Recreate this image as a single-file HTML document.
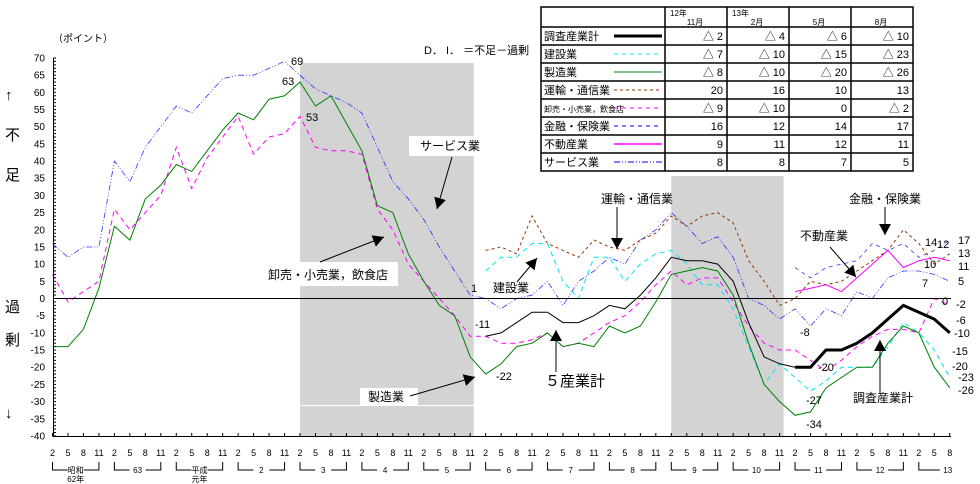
<!DOCTYPE html>
<html><head><meta charset="utf-8"><style>
body{margin:0;background:#fff;}
svg{display:block;font-family:"Liberation Sans","Noto Sans CJK JP",sans-serif;}
</style></head><body>
<svg id="chart" width="980" height="484" viewBox="0 0 980 484">
<g id="bg"></g><g id="grid"></g><g id="series"></g><g id="ann"></g><g id="axes"></g><g id="legend"></g>
</svg>
<script>
const tickLabels=["2","5","8","11"];
const yearLabels=["昭和","63","平成","2","3","4","5","6","7","8","9","10","11","12","13"];
const yTicks=[70,65,60,55,50,45,40,35,30,25,20,15,10,5,0,-5,-10,-15,-20,-25,-30,-35,-40];
const mfg=[-14,-14,-9,3,21,17,29,33,39,37,43,49,54,52,58,59,
63,56,59,51,43,27,25,13,5,-2,-5,-17,-22,
-19,-14,-13,-10,-14,-13,-14,-8,-10,-8,-1,7,
8,9,8,1,-13,-25,-30,-34,-33,
-26,-23,-20,-20,-13,-8,-10,-20,-26];
const wholesale=[7,-1,2,5,26,20,25,30,44,32,41,47,53,42,47,48,
53,44,43,43,42,26,20,10,5,0,-5,-11,-11,
-13,-13,-12,-10,-14,-13,-10,-7,-5,-1,4,8,
4,6,6,-1,-8,-13,-15,-15,-18,
-21,-18,-14,-11,-9,-9,-10,0,-2];
const service=[16,12,15,15,40,34,44,50,56,54,59,64,65,65,67,69,
65,61,59,57,54,44,34,29,23,15,8,1,0,
-3,0,1,5,-2,5,8,12,10,17,20,25,
21,16,18,12,0,-2,-6,-3,-8,
-3,-5,2,0,6,8,8,7,5];
const N=null;
const finance=[N,N,N,N,N,N,N,N,N,N,N,N,N,N,N,N,N,N,N,N,N,N,N,N,N,N,N,N,N,N,N,N,N,N,N,N,N,N,N,N,N,N,N,N,N,N,N,N,
9,6,9,10,11,16,14,16,12,14,17];
const transport=[N,N,N,N,N,N,N,N,N,N,N,N,N,N,N,N,N,N,N,N,N,N,N,N,N,N,N,N,
14,15,13,24,16,14,12,17,15,14,17,19,24,
21,24,25,22,11,5,-2,0,5,
4,5,8,11,14,20,16,10,13];
const construction=[N,N,N,N,N,N,N,N,N,N,N,N,N,N,N,N,N,N,N,N,N,N,N,N,N,N,N,N,
8,12,12,16,16,5,0,12,12,5,10,13,14,
10,4,4,-3,-14,-25,-19,-23,-27,
-24,-20,-20,-20,-14,-7,-10,-15,-23];
const five=[N,N,N,N,N,N,N,N,N,N,N,N,N,N,N,N,N,N,N,N,N,N,N,N,N,N,N,N,
-11,-10,-7,-4,-4,-7,-7,-5,-2,-3,1,6,12,
11,11,10,5,-7,-17,-19,-20,N,
N,N,N,N,N,N,N,N,N];
const total=[N,N,N,N,N,N,N,N,N,N,N,N,N,N,N,N,N,N,N,N,N,N,N,N,N,N,N,N,N,N,N,N,N,N,N,N,N,N,N,N,N,N,N,N,N,N,N,N,
-20,-20,-15,-15,-13,-10,-6,-2,-4,-6,-10];
const realestate=[N,N,N,N,N,N,N,N,N,N,N,N,N,N,N,N,N,N,N,N,N,N,N,N,N,N,N,N,N,N,N,N,N,N,N,N,N,N,N,N,N,N,N,N,N,N,N,N,
2,3,4,2,6,10,14,9,11,12,11];
const tableCols=["12年\n11月","13年\n2月","5月","8月"];
const tableRows=["調査産業計","建設業","製造業","運輸・通信業","卸売・小売業，飲食店","金融・保険業","不動産業","サービス業"];
const tableVals=[["△ 2","△ 4","△ 6","△ 10"],["△ 7","△ 10","△ 15","△ 23"],["△ 8","△ 10","△ 20","△ 26"],["20","16","10","13"],["△ 9","△ 10","0","△ 2"],["16","12","14","17"],["9","11","12","11"],["8","8","7","5"]];

const NS="http://www.w3.org/2000/svg";
const X0=52.5,DX=15.47,Y0=298.5,DY=3.436;
function xs(i){return X0+i*DX;}
function ys(v){return Y0-v*DY;}
function mk(tag,attrs,parent,text){const e=document.createElementNS(NS,tag);for(const k in attrs)e.setAttribute(k,attrs[k]);if(text!==undefined)e.textContent=text;parent.appendChild(e);return e;}
const bg=document.getElementById('bg'),axes=document.getElementById('axes'),ser=document.getElementById('series'),ann=document.getElementById('ann'),leg=document.getElementById('legend');

let r=mk('rect',{x:xs(16),y:63,width:xs(27)-xs(16)+3.5,height:436-63,fill:'#d3d3d3'},bg);

r=mk('rect',{x:xs(40),y:176,width:xs(47)-xs(40)+4,height:436-176,fill:'#d3d3d3'},bg);

mk('line',{x1:xs(16),x2:xs(27)+3.5,y1:405.5,y2:405.5,stroke:'#fff','stroke-width':1},bg);

let yl=mk('line',{x1:53.5,x2:53.5,y1:58,y2:436,stroke:'#000'},axes);

for(let v=-40;v<=70;v++){mk('line',{x1:53.5,x2:56,y1:ys(v),y2:ys(v),stroke:'#000'},axes);}
yTicks.forEach(v=>{const t=mk('text',{x:45,y:ys(v)+3.5,'text-anchor':'end','font-size':10},axes,String(v));
});
let xl=mk('line',{x1:53,x2:951,y1:436.5,y2:436.5,stroke:'#000'},axes);

let zl=mk('line',{x1:53,x2:951,y1:ys(0),y2:ys(0),stroke:'#000'},axes);

for(let i=0;i<59;i++){
 mk('line',{x1:xs(i),x2:xs(i),y1:433,y2:436.5,stroke:'#000'},axes);
 const t=mk('text',{x:xs(i),y:456,'text-anchor':'middle','font-size':9},axes,tickLabels[i%4]);
 
}
yearLabels.forEach((lab,k)=>{
 const a=xs(4*k),b=(k<14)?xs(4*k+3):xs(58)+2,m=(k<14)?(a+b)/2:b-4;
 mk('path',{d:`M${a} 462V470H${m-8}`,stroke:'#000',fill:'none'},axes);
 if(k<14)mk('path',{d:`M${m+8} 470H${b}V462`,stroke:'#000',fill:'none'},axes);
 const t=mk('text',{x:m,y:473,'text-anchor':'middle','font-size':8},axes,lab);
 
});
mk('text',{x:xs(1.5),y:482,'text-anchor':'middle','font-size':8},axes,'62年');
mk('text',{x:xs(9.5),y:482,'text-anchor':'middle','font-size':8},axes,'元年');

function draw(arr,color,width,dash,name){
 let d='',pen=false;
 arr.forEach((v,i)=>{if(v===null){pen=false;return;}d+=(pen?'L':'M')+xs(i).toFixed(1)+' '+ys(v).toFixed(1);pen=true;});
 const p=mk('path',{d:d,stroke:color,'stroke-width':width,fill:'none'},ser);
 if(dash)p.setAttribute('stroke-dasharray',dash);
 
 
}
draw(service,'#0000ff',0.8,'6,2,1,2,1,2','series-service');
draw(finance,'#0000ff',0.8,'4,4','series-finance');
draw(transport,'#993300',1,'3,3','series-transport');
draw(construction,'#00e5ee',1,'5,4','series-construction');
draw(wholesale,'#ff00ff',1,'5,4','series-wholesale');
draw(mfg,'#008000',1,null,'series-manufacturing');
draw(five,'#000000',1,null,'series-five-industries');
draw(realestate,'#ff00ff',1,null,'series-real-estate');
draw(total,'#000000',3,null,'series-all-industries');
ser.querySelectorAll('path')[0].setAttribute('stroke-opacity','0.8');
ser.querySelectorAll('path')[1].setAttribute('stroke-opacity','0.8');

function box(x,y,w,h){mk('rect',{x:x,y:y,width:w,height:h,fill:'#fff'},ann);}
function label(x,y,s,name,size){const t=mk('text',{x:x,y:y,'font-size':size||12},ann,s);return t;}
function arrow(x1,y1,x2,y2){mk('line',{x1:x1,y1:y1,x2:x2,y2:y2,stroke:'#000'},ann);
 const a=Math.atan2(y2-y1,x2-x1),L=11,W=6;
 const bx=x2-L*Math.cos(a),by=y2-L*Math.sin(a);
 mk('polygon',{points:`${x2},${y2} ${bx+W*Math.sin(a)},${by-W*Math.cos(a)} ${bx-W*Math.sin(a)},${by+W*Math.cos(a)}`,fill:'#000'},ann);}
box(409,136,66,20);label(420,150,'サービス業','label-service');arrow(452,157,437,209);
box(262,262,136,24);label(268,279,'卸売・小売業，飲食店','label-wholesale');arrow(320,262,384,237);
box(360,388,58,17);label(368,401,'製造業','label-manufacturing');arrow(410,396,475,377);
label(493,292,'建設業','label-construction');arrow(517,282,537,258);
label(601,203,'運輸・通信業','label-transport');arrow(617,207,617,249);
label(545,386,'５産業計','label-five-industries',15);arrow(556,372,556,330);
box(797,227,50,18);label(800,240,'不動産業','label-real-estate');arrow(830,247,856,277);
label(849,203,'金融・保険業','label-finance');arrow(885,207,885,235);
label(853,402,'調査産業計','label-all-industries');arrow(880,393,880,340);
label(53,42,'（ポイント）','y-axis-unit',10);
label(424,54,'D． I． ＝不足－過剰','di-definition',11);
[['↑',100],['不',140],['足',180],['過',312],['剰',345],['↓',418]].forEach(([c,y])=>{label(5,y,c,'y-axis-title-char',15);});
const vl=[['69',291,65],['63',282,85],['53',306,121],['1',471,292],['-11',475,328],['-22',496,380],['-8',800,336],['-20',818,371],['-27',806,404],['-34',806,428],
['14',925,246],['12',937,248],['10',924,268],['7',922,287],['0',942,305],
['17',958,244],['13',958,257],['11',958,270],['5',958,285],['-2',956,308],['-6',956,324],['-10',954,337],['-15',952,355],['-20',952,370],['-23',958,381],['-26',958,394]];
vl.forEach(([s,x,y])=>{label(x,y,s,'value-label',11);});

const LX=541,LW=[124,62,62,62,62],LY=7,HH=20,RH=18;
const tw=LW.reduce((a,b)=>a+b,0),th=HH+RH*8;
const tb=mk('rect',{x:LX,y:LY,width:tw,height:th,fill:'#fff',stroke:'#000','stroke-width':1.5},leg);

let cx=LX;for(let c=0;c<4;c++){cx+=LW[c];mk('line',{x1:cx,x2:cx,y1:LY,y2:LY+th,stroke:'#000','stroke-width':1.5},leg);}
for(let rr=0;rr<8;rr++)mk('line',{x1:LX,x2:LX+tw,y1:LY+HH+RH*rr,y2:LY+HH+RH*rr,stroke:'#000','stroke-width':1.5},leg);
tableCols.forEach((c,k)=>{const x0=LX+LW[0]+LW[1]*k;const parts=c.split('\n');
 if(parts.length>1){mk('text',{x:x0+5,y:LY+9,'font-size':8},leg,parts[0]);mk('text',{x:x0+30,y:LY+18,'text-anchor':'middle','font-size':8},leg,parts[1]);}
 else mk('text',{x:x0+30,y:LY+18,'text-anchor':'middle','font-size':8},leg,parts[0]);});
const sty=[['#000',3,null],['#00e5ee',1,'4,4'],['#008000',1,null],['#993300',1,'3,3'],['#ff00ff',1,'4,4'],['#0000ff',1,'4,4'],['#ff00ff',1.5,null],['#0000ff',1,'6,2,1,2,1,2']];
tableRows.forEach((nm,rr)=>{const y=LY+HH+RH*rr;
 const e=mk('text',{x:LX+3,y:y+13,'font-size':rr==4?8:11},leg,nm);
 
 const s=sty[rr];const ln=mk('line',{x1:LX+73,x2:LX+121,y1:y+9,y2:y+9,stroke:s[0],'stroke-width':s[1]},leg);
 if(s[2])ln.setAttribute('stroke-dasharray',s[2]);
 tableVals[rr].forEach((v,k)=>{mk('text',{x:LX+LW[0]+LW[1]*(k+1)-4,y:y+13,'text-anchor':'end','font-size':11},leg,v);});
});
</script>
</body></html>
